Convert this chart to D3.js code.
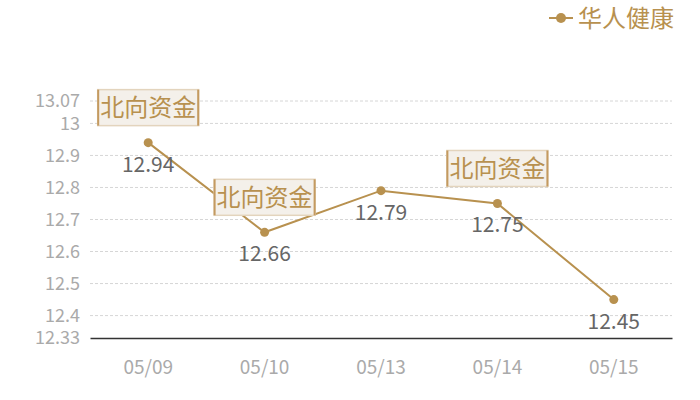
<!DOCTYPE html>
<html><head><meta charset="utf-8">
<script src="https://cdn.jsdelivr.net/npm/d3@7/dist/d3.min.js"></script>
<style>body{margin:0;background:#fff}svg{display:block;font-family:"Noto Sans CJK SC","Noto Sans",sans-serif}</style>
</head><body><svg id="c" width="700" height="400"></svg>
<script>
const categories = ["05/09","05/10","05/13","05/14","05/15"];
const values = [12.94, 12.66, 12.79, 12.75, 12.45];
const yTicks = [12.33, 12.4, 12.5, 12.6, 12.7, 12.8, 12.9, 13, 13.07];
const seriesName = "华人健康";
const annotations = [{i:0, text:"北向资金"}, {i:1, text:"北向资金"}, {i:3, text:"北向资金"}];

const svg = d3.select("#c");
const m = {l:90, r:672, t:101, b:338};
const x = d3.scaleBand().domain(categories).range([m.l, m.r]);
const y = d3.scaleLinear().domain([12.33, 13.07]).range([m.b, m.t]);
const gold = "#b8914f";

// grid
svg.append("g").selectAll("line").data(yTicks.filter(d=>d!==12.33)).join("line")
  .attr("x1", m.l).attr("x2", m.r).attr("y1", d=>y(d)).attr("y2", d=>y(d))
  .attr("stroke","#d6d6d6").attr("stroke-dasharray","3,2").attr("stroke-width",1);

// y axis labels
const ya = svg.append("g").attr("transform",`translate(${m.l},0)`)
  .call(d3.axisLeft(y).tickValues(yTicks).tickSize(0).tickPadding(10).tickFormat(d=>String(d)));
ya.select(".domain").remove();
ya.selectAll("text").attr("fill","#aaa").style("font-size","18px").style("font-family","'Noto Sans CJK SC',sans-serif");

// x axis
const xa = svg.append("g").attr("transform",`translate(0,${m.b})`)
  .call(d3.axisBottom(x).tickSize(0).tickPadding(23));
xa.select(".domain").attr("stroke","#333").attr("stroke-width",1.3);
xa.selectAll("text").attr("fill","#aaa").style("font-size","19px").style("font-family","'Noto Sans CJK SC',sans-serif");

// line
const cx = d=>x(d)+x.bandwidth()/2;
svg.append("path").datum(values)
  .attr("d", d3.line().x((d,i)=>cx(categories[i])).y(d=>y(d)))
  .attr("fill","none").attr("stroke",gold).attr("stroke-width",2);
svg.append("g").selectAll("circle").data(values).join("circle")
  .attr("cx",(d,i)=>cx(categories[i])).attr("cy",d=>y(d)).attr("r",4.5).attr("fill",gold);

// value labels
svg.append("g").selectAll("text").data(values).join("text")
  .attr("x",(d,i)=>cx(categories[i])).attr("y",d=>y(d)+29)
  .attr("text-anchor","middle").attr("fill","#666").style("font-size","21px").text(d=>d.toFixed(2));

// annotations
annotations.forEach(a=>{
  const px = cx(categories[a.i]), py = y(values[a.i]);
  const w = 101, h = 36;
  const g = svg.append("g").attr("transform",`translate(${px - w/2},${py - 17 - h})`);
  g.append("rect").attr("width",w).attr("height",h).attr("fill","#f4f0ea").attr("stroke","#e3d4bd").attr("stroke-width",1.5);
  g.append("line").attr("x1",0.5).attr("x2",0.5).attr("y1",0).attr("y2",h).attr("stroke","#c49a60").attr("stroke-width",2);
  g.append("line").attr("x1",w-0.5).attr("x2",w-0.5).attr("y1",0).attr("y2",h).attr("stroke","#c49a60").attr("stroke-width",2);
  g.append("text").attr("x",w/2).attr("y",h/2+8.5).attr("text-anchor","middle")
    .attr("fill",gold).style("font-size","24px").text(a.text);
});

// legend
const lg = svg.append("g");
lg.append("line").attr("x1",549).attr("x2",573).attr("y1",18).attr("y2",18).attr("stroke",gold).attr("stroke-width",2);
lg.append("circle").attr("cx",561).attr("cy",18).attr("r",5).attr("fill",gold);
lg.append("text").attr("x",578).attr("y",27).attr("fill",gold).style("font-size","24px").text(seriesName);
</script></body></html>
